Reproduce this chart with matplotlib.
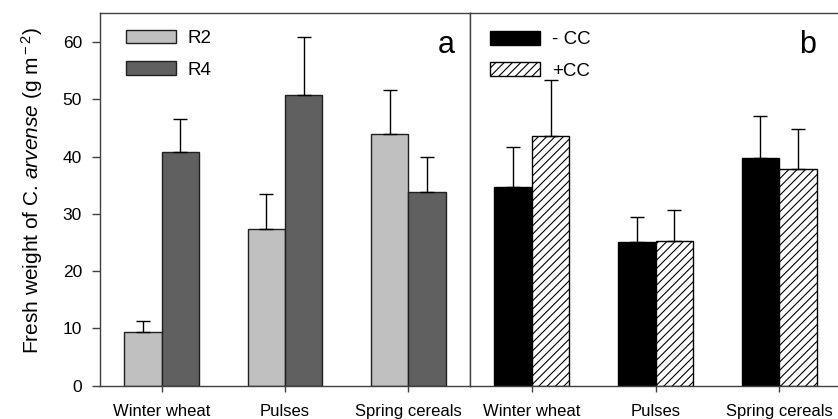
import matplotlib.pyplot as plt
import numpy as np

plt.rcParams['font.family'] = ['Liberation Sans', 'DejaVu Sans']
plt.rcParams['mathtext.fontset'] = 'custom'
plt.rcParams['mathtext.rm'] = 'Liberation Sans'
plt.rcParams['mathtext.it'] = 'Liberation Sans:italic'
plt.rcParams['hatch.linewidth'] = 0.8

crops = ['Winter wheat', 'Pulses', 'Spring cereals']

# panel a: rotation
r2 = [9.4, 27.4, 43.9]
r2_err = [1.9, 6.0, 7.7]
r4 = [40.8, 50.7, 33.8]
r4_err = [5.8, 10.1, 6.2]

# panel b: cover crop
no_cc = [34.6, 25.0, 39.8]
no_cc_err = [7.0, 4.5, 7.3]
cc = [43.6, 25.2, 37.9]
cc_err = [9.7, 5.4, 6.9]

spine_col = '#404040'

fig = plt.figure(figsize=(8.38, 4.19), dpi=100)
ax1 = fig.add_axes([100/838, 1 - 385.7/419, 370/838, 372.4/419])
ax2 = fig.add_axes([470/838, 1 - 385.7/419, 371/838, 372.4/419])

x = np.arange(len(crops))
w = 0.303
ekw = dict(elinewidth=1, capthick=1, ecolor='black')

ax1.bar(x - w/2, r2, w, color='#c0c0c0', edgecolor='#202020', lw=1, label='R2')
ax1.bar(x + w/2, r4, w, color='#606060', edgecolor='#202020', lw=1, label='R4')
ax1.errorbar(x - w/2, r2, yerr=[np.zeros(3), r2_err], fmt='none', capsize=4.7, **ekw)
ax1.errorbar(x + w/2, r4, yerr=[np.zeros(3), r4_err], fmt='none', capsize=4.7, **ekw)

ax2.bar(x - w/2, no_cc, w, color='black', edgecolor='black', lw=1, label='- CC')
ax2.bar(x + w/2, cc, w, color='white', edgecolor='black', lw=1, hatch='////', label='+CC')
ax2.errorbar(x - w/2, no_cc, yerr=[np.zeros(3), no_cc_err], fmt='none', capsize=4.7, **ekw)
ax2.errorbar(x + w/2, cc, yerr=[np.zeros(3), cc_err], fmt='none', capsize=4.7, **ekw)

for ax in (ax1, ax2):
    ax.set_xlim(-0.5, 2.5)
    ax.set_ylim(0, 65)
    ax.set_xticks(x)
    ax.set_xticklabels(crops, fontsize=12)
    ax.tick_params(axis='x', direction='out', length=4, width=1, color=spine_col, pad=9)
    for s in ax.spines.values():
        s.set_color(spine_col)
        s.set_linewidth(1)

ax1.set_yticks(range(0, 70, 10))
ax1.tick_params(axis='y', direction='out', length=6, width=1, color=spine_col, labelsize=12.5, pad=7)
ax1.set_ylabel('Fresh weight of C. $\\it{arvense}$ (g m$^{\\rm -2}$)', fontsize=15)
ax1.yaxis.set_label_coords(-0.148, 0.523)

ax2.set_yticks([])
ax2.spines['right'].set_visible(False)

leg_kw = dict(loc='upper left', frameon=False, fontsize=13.5,
              handlelength=2.65, handleheight=0.72, handletextpad=0.65, labelspacing=0.75,
              borderpad=0, borderaxespad=0)
ax1.legend(bbox_to_anchor=(0.07, 0.955), **leg_kw)
ax2.legend(bbox_to_anchor=(0.055, 0.952), **leg_kw)

ax1.text(0.959, 58.1, 'a', transform=ax1.get_yaxis_transform(), ha='right', va='baseline', fontsize=22)
ax2.text(0.9326, 58.1, 'b', transform=ax2.get_yaxis_transform(), ha='right', va='baseline', fontsize=22)

fig.savefig('out.png', dpi=100)
